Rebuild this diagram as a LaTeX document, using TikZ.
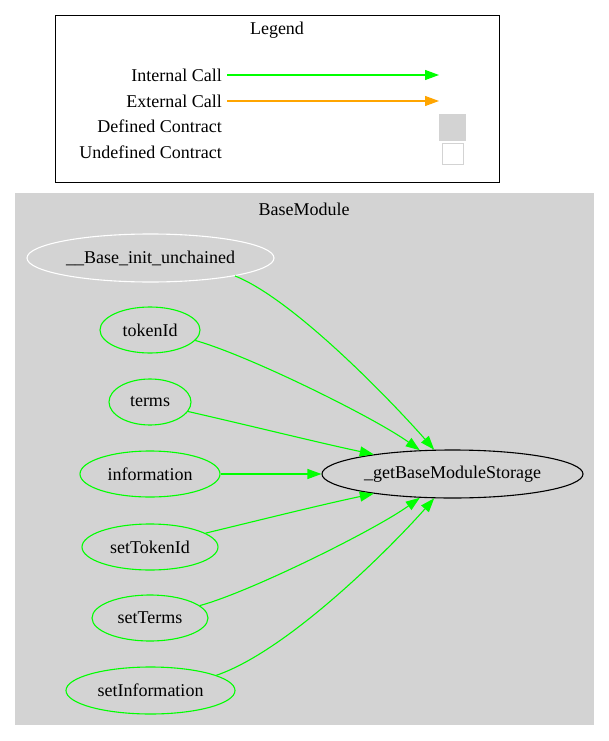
\documentclass[tikz,border=0pt]{standalone}
\usepackage{fontspec}
\setmainfont{Liberation Serif}
\usetikzlibrary{shapes.geometric,arrows.meta}
\definecolor{callgreen}{HTML}{00FF00}
\definecolor{callorange}{HTML}{FFA500}
\definecolor{clustergray}{HTML}{D3D3D3}
\begin{document}
\begin{tikzpicture}[x=1pt,y=-1pt,
  every node/.style={font=\fontsize{18}{20}\selectfont, text=black},
  lbl/.style={inner sep=0, anchor=east},
  fn/.style={ellipse, draw=callgreen, line width=1.1pt, inner sep=0, minimum height=46pt},
  call/.style={draw=callgreen, line width=1.1pt, -{Triangle[length=14pt,width=10pt]}},
  ext/.style={draw=callorange, line width=1.1pt, -{Triangle[length=14pt,width=10pt]}}
]
\useasboundingbox (0,0) rectangle (609,741);
\fill[white] (0,0) rectangle (609,741);

% Legend
\draw[black, line width=1pt] (55,16) rectangle (499,182);
\node (legtitle) at (277,30.5) {Legend};
\node[lbl] (lint) at (222,75.5) {Internal Call};
\node[lbl] (lext) at (222,101.5) {External Call};
\node[lbl] (ldef) at (222,126.5) {Defined Contract};
\node[lbl] (lund) at (222,152.5) {Undefined Contract};
\coordinate (i1) at (227,75);
\coordinate (i2) at (439,75);
\coordinate (e1) at (227,101);
\coordinate (e2) at (439,101);
\draw[call] (i1) -- (i2);
\draw[ext] (e1) -- (e2);
\node[draw=clustergray, fill=clustergray, line width=1pt, minimum width=26pt, minimum height=25pt, inner sep=0] (sqdef) at (452.5,127.5) {};
\node[draw=clustergray, fill=white, line width=1pt, minimum width=21pt, minimum height=21pt, inner sep=0] (sqund) at (452.5,153.5) {};

% Cluster
\fill[clustergray] (15,193) rectangle (594,725);
\node (ctitle) at (304,209) {BaseModule};

\node[ellipse, draw=white, line width=1.1pt, inner sep=0, minimum width=247pt, minimum height=48pt] (init) at (150.5,258) {\_\_Base\_init\_unchained};
\node[fn, minimum width=100pt] (tokenId) at (150,330) {tokenId};
\node[fn, minimum width=82pt] (terms) at (150,402) {terms};
\node[fn, minimum width=140pt] (information) at (150,474) {information};
\node[fn, minimum width=136pt] (setTokenId) at (150,547) {setTokenId};
\node[fn, minimum width=116pt] (setTerms) at (150,618) {setTerms};
\node[fn, minimum width=169pt, minimum height=47pt] (setInformation) at (150.5,690.5) {setInformation};
\node[ellipse, draw=black, line width=1.1pt, inner sep=0, minimum width=261pt, minimum height=48pt] (gbs) at (452.5,474) {\_getBaseModuleStorage};

\draw[call] (init.-12) .. controls (295,300) and (395,405) .. (gbs.127.3);
\draw[call] (tokenId.-13) .. controls (250,356) and (375,418) .. (gbs.144.7);
\draw[call] (terms.-14) .. controls (260,428) and (320,443) .. (gbs.166.7);
\draw[call] (information.0) -- (gbs.180);
\draw[call] (setTokenId.14) .. controls (260,520) and (320,505) .. (gbs.-166.7);
\draw[call] (setTerms.14) .. controls (250,592) and (375,530) .. (gbs.-144.7);
\draw[call] (setInformation.13) .. controls (290,650) and (395,543) .. (gbs.-127.3);
\end{tikzpicture}
\end{document}
